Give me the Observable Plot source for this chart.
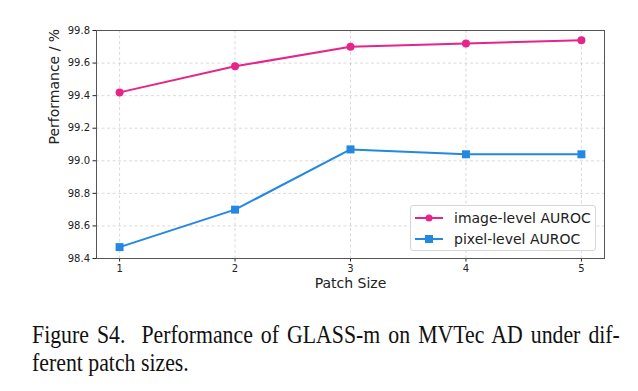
<!DOCTYPE html>
<html>
<head>
<meta charset="utf-8">
<script src="https://cdn.jsdelivr.net/npm/d3@7"></script>
<script src="https://cdn.jsdelivr.net/npm/@observablehq/plot@0.6"></script>
<style>
  html, body { margin: 0; padding: 0; background: #fff; }
  #wrap { position: relative; width: 638px; height: 391px; overflow: hidden; }
  #legend { position: absolute; left: 410px; top: 205px; width: 186px; height: 46px;
    border: 1px solid #d6d6d6; border-radius: 3px; background: rgba(255,255,255,0.85);
    font-family: "DejaVu Sans", sans-serif; font-size: 14px; color: #222; box-sizing: border-box; }
  .row { position: absolute; left: 3px; height: 20px; display: flex; align-items: center; }
  .row span { margin-left: 10px; }
  #caption { position: absolute; left: 32px; top: 321px; width: 690px;
    transform: scaleX(0.852); transform-origin: 0 0;
    font-family: "Liberation Serif", "Times New Roman", serif; font-size: 25.6px; color: #111;
    line-height: 28px; }
  #caption .l1 { text-align: justify; text-align-last: justify; white-space: nowrap; }
</style>
</head>
<body>
<div id="wrap">
  <div id="chart"></div>
  <div id="legend"></div>
  <div id="caption"><div class="l1">Figure S4.&nbsp; Performance of GLASS-m on MVTec AD under dif-</div><div>ferent patch sizes.</div></div>
</div>
<script>
const patchSizes = [1, 2, 3, 4, 5];
const imageAUROC = [99.42, 99.58, 99.70, 99.72, 99.74];
const pixelAUROC = [98.47, 98.70, 99.07, 99.04, 99.04];
const yTicks = [98.4, 98.6, 98.8, 99.0, 99.2, 99.4, 99.6, 99.8];
const seriesNames = ["image-level AUROC", "pixel-level AUROC"];
const colors = ["#e5258a", "#2388e2"];

const imgData = patchSizes.map((x, i) => ({x, y: imageAUROC[i]}));
const pixData = patchSizes.map((x, i) => ({x, y: pixelAUROC[i]}));

const plot = Plot.plot({
  width: 638,
  height: 300,
  marginLeft: 96,
  marginRight: 34,
  marginTop: 30,
  marginBottom: 42,
  style: { fontFamily: "DejaVu Sans, sans-serif", fontSize: "10px", color: "#222", background: "#fff" },
  x: { domain: [0.8, 5.2], label: null },
  y: { domain: [98.4, 99.8], label: null },
  marks: [
    Plot.gridX(patchSizes, { stroke: "#b0b0b0", strokeOpacity: 0.6, strokeDasharray: "3,2.5", strokeWidth: 0.8 }),
    Plot.gridY(yTicks, { stroke: "#b0b0b0", strokeOpacity: 0.6, strokeDasharray: "3,2.5", strokeWidth: 0.8 }),
    Plot.axisX({ ticks: patchSizes, tickFormat: d => String(d), tickSize: 3.5, tickPadding: 3, fontSize: 10, label: null }),
    Plot.axisY({ ticks: yTicks, tickFormat: d => d.toFixed(1), tickSize: 3.5, tickPadding: 3, fontSize: 10, label: null }),
    Plot.text(["Patch Size"], { frameAnchor: "bottom", dy: 29, fontSize: 14, fill: "#222" }),
    Plot.text(["Performance / %"], { frameAnchor: "left", dx: -42, rotate: -90, fontSize: 14, fill: "#222" }),
    Plot.line(imgData, { x: "x", y: "y", stroke: colors[0], strokeWidth: 2 }),
    Plot.dot(imgData, { x: "x", y: "y", fill: colors[0], r: 4, symbol: "circle" }),
    Plot.line(pixData, { x: "x", y: "y", stroke: colors[1], strokeWidth: 2 }),
    Plot.dot(pixData, { x: "x", y: "y", fill: colors[1], r: 4.5, symbol: "square" }),
    Plot.frame({ stroke: "#555", strokeWidth: 1 })
  ]
});
document.getElementById("chart").appendChild(plot);

const legend = document.getElementById("legend");
seriesNames.forEach((name, i) => {
  const row = document.createElement("div");
  row.className = "row";
  row.style.top = (2 + i * 21) + "px";
  const marker = i === 0
    ? `<circle cx="15" cy="7" r="3.5" fill="${colors[i]}"/>`
    : `<rect x="11" y="3" width="8" height="8" fill="${colors[i]}"/>`;
  row.innerHTML = `<svg width="30" height="14"><line x1="1" x2="29" y1="7" y2="7" stroke="${colors[i]}" stroke-width="2"/>${marker}</svg><span>${name}</span>`;
  legend.appendChild(row);
});
</script>
</body>
</html>
